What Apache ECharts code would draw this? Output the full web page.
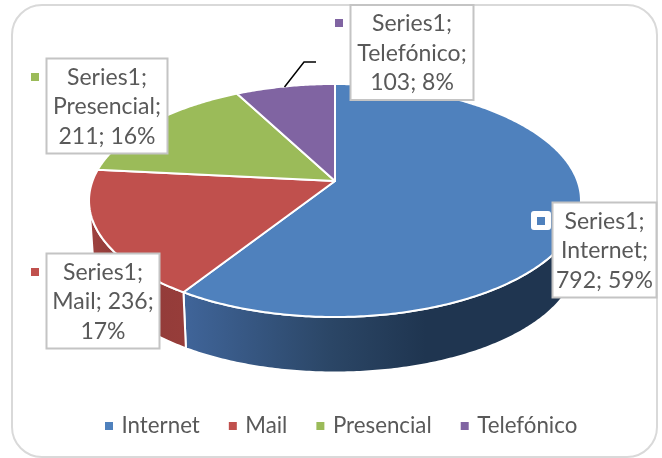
<!DOCTYPE html>
<html>
<head>
<meta charset="utf-8">
<style>html,body{margin:0;padding:0;background:#fff}#c{width:662px;height:458px}</style>
<script src="https://cdn.jsdelivr.net/npm/echarts@6/dist/echarts.min.js"></script>
</head>
<body>
<div id="c"></div>
<script>
const categories = ['Internet', 'Mail', 'Presencial', 'Telefónico'];
const values = [792, 236, 211, 103];
const labelLines = [
  'Series1;\nInternet;\n792; 59%',
  'Series1;\nMail; 236;\n17%',
  'Series1;\nPresencial;\n211; 16%',
  'Series1;\nTelefónico;\n103; 8%'
];
const colors = ['#4F81BD', '#C0504D', '#9BBB59', '#8064A2'];
const wallStops = [
  [[0, '#1F3550'], [0.39, '#1F3550'], [0.63, '#2B4666'], [1, '#40659A']],
  [[0, '#973D3A'], [0.7, '#8F3A38'], [1, '#A04340']]
];

// label box layout: [x, y, w, h, markerX, markerY]
const boxLayout = [
  [552.5, 202.5, 104, 95, 537, 217],
  [46.5, 253.5, 113, 95, 31, 268],
  [46.5, 58.5, 121, 95, 31, 73],
  [350.5, 5, 123, 95, 335, 19]
];

// Perspective pie: unit circle projected onto the picture plane.
const CX = 335, APEX_Y = 181, A = 242.5, B = 82.94, K = -0.1674;
const ELLIPSE_Y = 200, RX = 246, RY = 116.5;
const BASE_Y = 258, BASE_RX = 242, BASE_RY = 114;
const total = values.reduce((a, b) => a + b, 0);

function rimPoint(theta) {
  const u = Math.sin(theta), v = -Math.cos(theta), d = 1 + K * v;
  return [CX + A * u / d, (APEX_Y + B * v) / d];
}
function basePoint(p) {
  return [CX + (p[0] - CX) * BASE_RX / RX, BASE_Y + (p[1] - ELLIPSE_Y) * BASE_RY / RY];
}
function arc(a0, a1) {
  const n = Math.max(2, Math.ceil(Math.abs(a1 - a0) * 90)), pts = [];
  for (let i = 0; i <= n; i++) pts.push(rimPoint(a0 + (a1 - a0) * i / n));
  return pts;
}
const frontV = (ELLIPSE_Y - APEX_Y) / (B - K * ELLIPSE_Y);
const FRONT0 = Math.acos(-frontV), FRONT1 = 2 * Math.PI - FRONT0;

const sliceSeries = categories.map((name, idx) => ({
  type: 'custom',
  name,
  coordinateSystem: 'none',
  silent: true,
  z: 2,
  itemStyle: { color: colors[idx] },
  data: [values[idx]],
  renderItem(params, api) {
    const before = values.slice(0, idx).reduce((a, b) => a + b, 0);
    const a0 = before / total * 2 * Math.PI;
    const a1 = (before + api.value(0)) / total * 2 * Math.PI;
    const children = [];
    const w0 = Math.max(a0, FRONT0), w1 = Math.min(a1, FRONT1);
    if (w1 > w0 && wallStops[idx]) {
      const upper = arc(w0, w1), lower = upper.map(basePoint).reverse();
      const stops = wallStops[idx].map(s => ({ offset: s[0], color: s[1] }));
      children.push({
        type: 'polygon', shape: { points: upper.concat(lower) },
        style: {
          fill: new echarts.graphic.LinearGradient(1, 0, 0, 0, stops),
          stroke: '#fff', lineWidth: 2, lineJoin: 'round'
        }
      });
    }
    children.push({
      type: 'polygon',
      shape: { points: [[CX, APEX_Y]].concat(arc(a0, a1)) },
      style: { fill: colors[idx], stroke: '#fff', lineWidth: 2, lineJoin: 'round' }
    });
    return { type: 'group', children };
  }
}));

const labelSeries = {
  type: 'custom',
  name: 'Series1',
  coordinateSystem: 'none',
  silent: true,
  z: 5,
  data: categories.map((c, i) => [i]),
  renderItem(params, api) {
    const i = api.value(0), b = boxLayout[i], children = [];
    if (i === 0) {
      children.push({ type: 'rect', shape: { x: b[4] - 6, y: b[5] - 6, width: 20, height: 19, r: 3 }, style: { fill: '#fff' } });
    }
    children.push(
      { type: 'rect', shape: { x: b[4], y: b[5], width: 8, height: 8 }, style: { fill: colors[i] } },
      { type: 'rect', shape: { x: b[0], y: b[1], width: b[2], height: b[3] }, style: { fill: '#fff', stroke: '#C4C4C4', lineWidth: 2 } },
      { type: 'text', style: {
          text: labelLines[i], x: b[0] + b[2] / 2, y: b[1] + b[3] / 2 + 1,
          align: 'center', verticalAlign: 'middle',
          font: '23px Lato', lineHeight: 29.5, fill: '#595959'
      } }
    );
    return { type: 'group', children };
  }
};

const chart = echarts.init(document.getElementById('c'), null, { renderer: 'canvas' });
chart.setOption({
  animation: false,
  color: colors,
  graphic: [
    { type: 'rect', z: 0, shape: { x: 12, y: 5, width: 645, height: 452, r: 30 }, style: { fill: '#fff', stroke: '#D9D9D9', lineWidth: 2 } },
    { type: 'polyline', z: 10, shape: { points: [[284.5, 87], [304, 62], [316, 62]] }, style: { stroke: '#000', lineWidth: 1.5, fill: null } }
  ],
  legend: {
    data: categories,
    left: 100, top: 410,
    itemWidth: 8, itemHeight: 8, itemGap: 29,
    icon: 'rect',
    selectedMode: false,
    textStyle: { fontFamily: 'Lato', fontSize: 22.3, color: '#595959', padding: [0, 0, 0, 3.5] }
  },
  series: sliceSeries.concat(labelSeries)
});
</script>
</body>
</html>
